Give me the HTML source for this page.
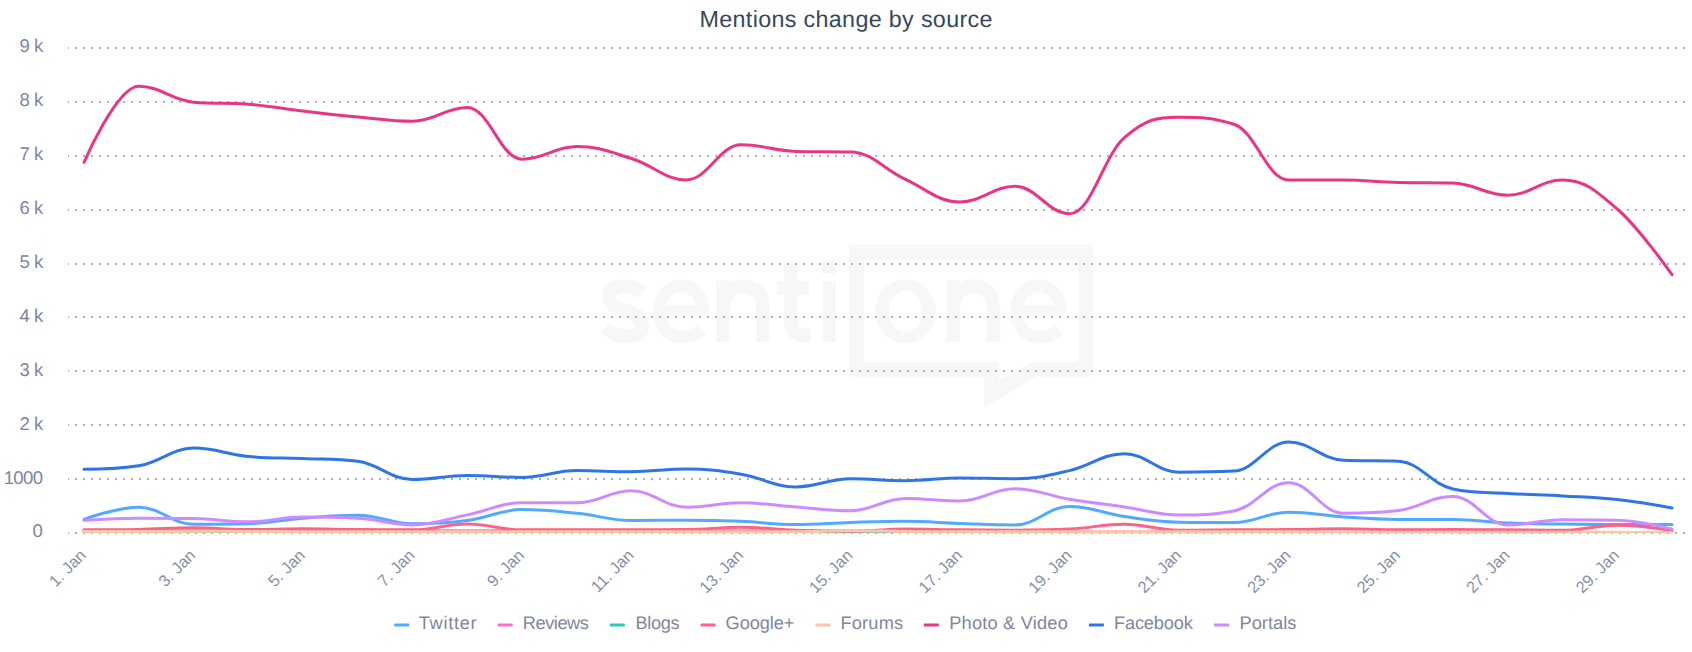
<!DOCTYPE html>
<html><head><meta charset="utf-8"><title>Mentions change by source</title>
<style>html,body{margin:0;padding:0;background:#fff;}svg{display:block;}text{font-family:"Liberation Sans",sans-serif;text-rendering:geometricPrecision;}</style></head><body>
<svg width="1692" height="652" viewBox="0 0 1692 652">
<rect x="0" y="0" width="1692" height="652" fill="#ffffff"/>
<g id="wm" fill="none" stroke="#f7f7f7" stroke-width="14" stroke-linecap="butt" stroke-linejoin="miter">
<path fill="#f7f7f7" stroke="none" fill-rule="evenodd" d="M848.9 244.6 H1092.8 V376.8 H1036.5 L984.4 407.5 V376.8 H848.9 Z M863.8 259.5 V362 H999.2 V380.8 L1032.2 362 H1077.9 V259.5 Z"/>
<path d="M642.5 292.5 Q634 286.3 624.5 286.3 Q609.5 286.3 609.5 297.5 Q609.5 306.5 625.5 310.8 Q642 315.2 642 325.5 Q642 336.3 626 336.3 Q614 336.3 605.5 327.5"/>
<path stroke-width="12.6" d="M703.4 311.4 A22.1 25.8 0 1 0 681.3 337.2 C690 337.2 696.8 334.4 702 329.8" />
<path stroke-width="8.4" d="M662 309.8 H707"/>
<path d="M723.1 342 V280.4 M723.1 309 C723.1 293 732 286.3 743 286.3 C755 286.3 762.9 293 762.9 309 V342"/>
<path d="M790.9 263 V321 Q790.9 335.2 804.5 335.2 H811.3 M777.5 288 H809"/>
<path d="M828.9 281.1 V342 M828.9 260.4 V273.8"/>
<path fill="#f7f7f7" stroke="none" fill-rule="evenodd" d="M875.2 311.3 a30.35 31.9 0 1 0 60.7 0 a30.35 31.9 0 1 0 -60.7 0 Z M888.9 311.3 a16.65 20.8 0 1 0 33.3 0 a16.65 20.8 0 1 0 -33.3 0 Z"/>

<path d="M953 342 V280.4 M953 309 C953 293 962 286.3 973 286.3 C985.5 286.3 993.4 293 993.4 309 V342"/>
<path stroke-width="12.6" d="M1060.9 311.4 A22.3 25.8 0 1 0 1038.6 337.2 C1047.4 337.2 1054.2 334.4 1059.5 329.8" />
<path stroke-width="8.4" d="M1019 309.8 H1064.5"/>
</g>
<g id="grid" stroke="#b2b2b2" stroke-width="2" stroke-dasharray="2,6" fill="none">
<path d="M68 48 H1685" stroke-dashoffset="1"/>
<path d="M68 102 H1685" stroke-dashoffset="1"/>
<path d="M68 156 H1685" stroke-dashoffset="1"/>
<path d="M68 210 H1685" stroke-dashoffset="1"/>
<path d="M68 264 H1685" stroke-dashoffset="1"/>
<path d="M68 317 H1685" stroke-dashoffset="1"/>
<path d="M68 371 H1685" stroke-dashoffset="1"/>
<path d="M68 425 H1685" stroke-dashoffset="1"/>
<path d="M68 479 H1685" stroke-dashoffset="1"/>
<path d="M68 533 H1685" stroke-dashoffset="1"/>
</g>
<rect x="60" y="40" width="8" height="500" fill="#fff" opacity="0"/>
<g id="ylabels" fill="#7f86a1" font-size="18.5" text-anchor="end" word-spacing="-0.9">
<text x="43.2" y="52.3">9 k</text>
<text x="43.2" y="106.2">8 k</text>
<text x="43.2" y="160.1">7 k</text>
<text x="43.2" y="214.0">6 k</text>
<text x="43.2" y="267.9">5 k</text>
<text x="43.2" y="321.7">4 k</text>
<text x="43.2" y="375.6">3 k</text>
<text x="43.2" y="429.5">2 k</text>
<text x="42.6" y="484.3" letter-spacing="-0.55">1000</text>
<text x="42.8" y="537.3">0</text>
</g>
<g id="xlabels" fill="#8790aa" font-size="16.3" text-anchor="end">
<text transform="translate(87.0,556.3) rotate(-45)">1. Jan</text>
<text transform="translate(196.5,556.3) rotate(-45)">3. Jan</text>
<text transform="translate(306.0,556.3) rotate(-45)">5. Jan</text>
<text transform="translate(415.6,556.3) rotate(-45)">7. Jan</text>
<text transform="translate(525.1,556.3) rotate(-45)">9. Jan</text>
<text transform="translate(634.6,556.3) rotate(-45)">11. Jan</text>
<text transform="translate(744.1,556.3) rotate(-45)">13. Jan</text>
<text transform="translate(853.6,556.3) rotate(-45)">15. Jan</text>
<text transform="translate(963.1,556.3) rotate(-45)">17. Jan</text>
<text transform="translate(1072.7,556.3) rotate(-45)">19. Jan</text>
<text transform="translate(1182.2,556.3) rotate(-45)">21. Jan</text>
<text transform="translate(1291.7,556.3) rotate(-45)">23. Jan</text>
<text transform="translate(1401.2,556.3) rotate(-45)">25. Jan</text>
<text transform="translate(1510.7,556.3) rotate(-45)">27. Jan</text>
<text transform="translate(1620.2,556.3) rotate(-45)">29. Jan</text>
</g>
<clipPath id="pc"><rect x="60" y="0" width="1632" height="533"/></clipPath>
<g id="series" clip-path="url(#pc)" fill="none" stroke-width="3" stroke-linecap="round" stroke-linejoin="round">
<path stroke="#50abfe" d="M 84.00 519.31 C 84.00 519.31 116.86 507.19 138.76 507.19 C 160.66 507.19 171.61 524.22 193.52 524.22 C 215.42 524.22 226.37 524.22 248.28 523.78 C 270.18 523.35 281.13 519.84 303.03 518.13 C 324.94 516.41 335.89 515.22 357.79 515.22 C 379.70 515.22 390.65 523.78 412.55 523.78 C 434.46 523.78 445.41 523.33 467.31 520.50 C 489.21 517.66 500.17 509.61 522.07 509.61 C 543.97 509.61 554.92 511.10 576.83 513.28 C 598.73 515.45 609.68 520.50 631.59 520.50 C 653.49 520.50 664.44 520.23 686.34 520.23 C 708.25 520.23 719.20 520.49 741.10 521.36 C 763.01 522.23 773.96 524.59 795.86 524.59 C 817.77 524.59 828.72 523.15 850.62 522.49 C 872.52 521.83 883.48 521.31 905.38 521.31 C 927.28 521.31 938.23 522.69 960.14 523.41 C 982.04 524.13 992.99 524.92 1014.90 524.92 C 1036.80 524.92 1047.75 506.49 1069.66 506.49 C 1091.56 506.49 1102.51 513.36 1124.41 516.51 C 1146.32 519.66 1157.27 521.84 1179.17 522.22 C 1201.08 522.60 1212.03 522.60 1233.93 522.60 C 1255.83 522.60 1266.79 512.20 1288.69 512.20 C 1310.59 512.20 1321.54 515.50 1343.45 516.94 C 1365.35 518.39 1376.30 519.42 1398.21 519.42 C 1420.11 519.42 1431.06 519.42 1452.97 519.42 C 1474.87 519.42 1485.82 522.04 1507.72 522.98 C 1529.63 523.91 1540.58 523.78 1562.48 524.11 C 1584.39 524.43 1595.34 524.59 1617.24 524.59 C 1639.14 524.59 1672.00 524.59 1672.00 524.59"/>
<path stroke="#ff6ed2" d="M 84.00 530.68 C 84.00 530.68 116.86 530.68 138.76 530.68 C 160.66 530.68 171.61 530.68 193.52 530.68 C 215.42 530.68 226.37 530.68 248.28 530.68 C 270.18 530.68 281.13 530.68 303.03 530.68 C 324.94 530.68 335.89 530.68 357.79 530.68 C 379.70 530.68 390.65 530.68 412.55 530.68 C 434.46 530.68 445.41 530.68 467.31 530.68 C 489.21 530.68 500.17 530.68 522.07 530.68 C 543.97 530.68 554.92 530.95 576.83 530.95 C 598.73 530.95 609.68 530.95 631.59 530.95 C 653.49 530.95 664.44 530.95 686.34 530.95 C 708.25 530.95 719.20 530.95 741.10 530.95 C 763.01 530.95 773.96 530.95 795.86 530.95 C 817.77 530.95 828.72 530.95 850.62 531.06 C 872.52 531.17 883.48 531.40 905.38 531.60 C 927.28 531.79 938.23 532.03 960.14 532.03 C 982.04 532.03 992.99 532.03 1014.90 532.03 C 1036.80 532.03 1047.75 532.03 1069.66 532.03 C 1091.56 532.03 1102.51 532.03 1124.41 532.03 C 1146.32 532.03 1157.27 532.03 1179.17 532.03 C 1201.08 532.03 1212.03 532.03 1233.93 532.03 C 1255.83 532.03 1266.79 532.03 1288.69 532.03 C 1310.59 532.03 1321.54 532.35 1343.45 532.35 C 1365.35 532.35 1376.30 532.35 1398.21 532.35 C 1420.11 532.35 1431.06 532.35 1452.97 532.35 C 1474.87 532.35 1485.82 532.35 1507.72 532.35 C 1529.63 532.35 1540.58 532.35 1562.48 532.35 C 1584.39 532.35 1595.34 532.49 1617.24 532.57 C 1639.14 532.64 1672.00 532.73 1672.00 532.73"/>
<path stroke="#2bcbb8" d="M 84.00 532.68 C 84.00 532.68 116.86 532.68 138.76 532.68 C 160.66 532.68 171.61 532.68 193.52 532.68 C 215.42 532.68 226.37 532.68 248.28 532.68 C 270.18 532.68 281.13 532.68 303.03 532.68 C 324.94 532.68 335.89 532.68 357.79 532.68 C 379.70 532.68 390.65 532.68 412.55 532.68 C 434.46 532.68 445.41 532.68 467.31 532.68 C 489.21 532.68 500.17 532.68 522.07 532.68 C 543.97 532.68 554.92 532.68 576.83 532.68 C 598.73 532.68 609.68 532.68 631.59 532.68 C 653.49 532.68 664.44 532.68 686.34 532.68 C 708.25 532.68 719.20 532.68 741.10 532.68 C 763.01 532.68 773.96 532.68 795.86 532.68 C 817.77 532.68 828.72 532.68 850.62 532.68 C 872.52 532.68 883.48 532.68 905.38 532.68 C 927.28 532.68 938.23 532.68 960.14 532.68 C 982.04 532.68 992.99 532.68 1014.90 532.68 C 1036.80 532.68 1047.75 532.68 1069.66 532.68 C 1091.56 532.68 1102.51 532.68 1124.41 532.68 C 1146.32 532.68 1157.27 532.68 1179.17 532.68 C 1201.08 532.68 1212.03 532.68 1233.93 532.68 C 1255.83 532.68 1266.79 532.68 1288.69 532.68 C 1310.59 532.68 1321.54 532.68 1343.45 532.68 C 1365.35 532.68 1376.30 532.68 1398.21 532.68 C 1420.11 532.68 1431.06 532.68 1452.97 532.68 C 1474.87 532.68 1485.82 532.68 1507.72 532.68 C 1529.63 532.68 1540.58 532.68 1562.48 532.68 C 1584.39 532.68 1595.34 532.68 1617.24 532.68 C 1639.14 532.68 1672.00 532.68 1672.00 532.68"/>
<path stroke="#ff6188" d="M 84.00 529.87 C 84.00 529.87 116.86 529.81 138.76 529.39 C 160.66 528.97 171.61 527.77 193.52 527.77 C 215.42 527.77 226.37 529.60 248.28 529.60 C 270.18 529.60 281.13 528.80 303.03 528.80 C 324.94 528.80 335.89 529.39 357.79 529.60 C 379.70 529.82 390.65 529.87 412.55 529.87 C 434.46 529.87 445.41 524.11 467.31 524.11 C 489.21 524.11 500.17 529.87 522.07 529.87 C 543.97 529.87 554.92 529.87 576.83 529.87 C 598.73 529.87 609.68 529.87 631.59 529.87 C 653.49 529.87 664.44 529.87 686.34 529.60 C 708.25 529.34 719.20 527.29 741.10 527.29 C 763.01 527.29 773.96 529.55 795.86 530.36 C 817.77 531.17 828.72 531.33 850.62 531.33 C 872.52 531.33 883.48 529.07 905.38 529.07 C 927.28 529.07 938.23 529.65 960.14 529.87 C 982.04 530.10 992.99 530.20 1014.90 530.20 C 1036.80 530.20 1047.75 530.20 1069.66 529.07 C 1091.56 527.93 1102.51 524.22 1124.41 524.22 C 1146.32 524.22 1157.27 530.36 1179.17 530.36 C 1201.08 530.36 1212.03 530.03 1233.93 529.87 C 1255.83 529.72 1266.79 529.82 1288.69 529.60 C 1310.59 529.39 1321.54 528.80 1343.45 528.80 C 1365.35 528.80 1376.30 529.87 1398.21 529.87 C 1420.11 529.87 1431.06 529.60 1452.97 529.60 C 1474.87 529.60 1485.82 529.72 1507.72 529.87 C 1529.63 530.03 1540.58 530.36 1562.48 530.36 C 1584.39 530.36 1595.34 525.19 1617.24 525.19 C 1639.14 525.19 1672.00 530.52 1672.00 530.52"/>
<path stroke="#ffc6a4" d="M 84.00 531.60 C 84.00 531.60 116.86 531.54 138.76 531.49 C 160.66 531.44 171.61 531.33 193.52 531.33 C 215.42 531.33 226.37 531.36 248.28 531.44 C 270.18 531.51 281.13 531.71 303.03 531.71 C 324.94 531.71 335.89 531.71 357.79 531.71 C 379.70 531.71 390.65 531.71 412.55 531.71 C 434.46 531.71 445.41 531.71 467.31 531.71 C 489.21 531.71 500.17 531.71 522.07 531.71 C 543.97 531.71 554.92 531.71 576.83 531.71 C 598.73 531.71 609.68 531.71 631.59 531.71 C 653.49 531.71 664.44 531.71 686.34 531.71 C 708.25 531.71 719.20 531.71 741.10 531.71 C 763.01 531.71 773.96 531.71 795.86 531.71 C 817.77 531.71 828.72 530.74 850.62 530.74 C 872.52 530.74 883.48 531.18 905.38 531.38 C 927.28 531.59 938.23 531.76 960.14 531.76 C 982.04 531.76 992.99 531.76 1014.90 531.76 C 1036.80 531.76 1047.75 531.76 1069.66 531.76 C 1091.56 531.76 1102.51 531.76 1124.41 531.76 C 1146.32 531.76 1157.27 531.76 1179.17 531.76 C 1201.08 531.76 1212.03 531.76 1233.93 531.76 C 1255.83 531.76 1266.79 531.80 1288.69 531.87 C 1310.59 531.93 1321.54 532.02 1343.45 532.08 C 1365.35 532.15 1376.30 532.19 1398.21 532.19 C 1420.11 532.19 1431.06 532.19 1452.97 532.19 C 1474.87 532.19 1485.82 532.19 1507.72 532.19 C 1529.63 532.19 1540.58 532.19 1562.48 532.19 C 1584.39 532.19 1595.34 532.27 1617.24 532.35 C 1639.14 532.44 1672.00 532.62 1672.00 532.62"/>
<path stroke="#e93588" d="M 84.00 162.30 C 84.00 162.30 116.86 86.30 138.76 86.30 C 160.66 86.30 171.61 100.20 193.52 102.20 C 215.42 104.20 226.37 102.44 248.28 104.20 C 270.18 105.96 281.13 108.46 303.03 111.00 C 324.94 113.54 335.89 114.84 357.79 116.90 C 379.70 118.96 390.65 121.30 412.55 121.30 C 434.46 121.30 445.41 107.50 467.31 107.50 C 489.21 107.50 500.17 159.20 522.07 159.20 C 543.97 159.20 554.92 146.50 576.83 146.50 C 598.73 146.50 609.68 151.82 631.59 158.50 C 653.49 165.18 664.44 179.90 686.34 179.90 C 708.25 179.90 719.20 144.80 741.10 144.80 C 763.01 144.80 773.96 150.90 795.86 151.40 C 817.77 151.90 828.72 151.40 850.62 151.90 C 872.52 152.40 883.48 169.38 905.38 179.40 C 927.28 189.42 938.23 202.00 960.14 202.00 C 982.04 202.00 992.99 186.30 1014.90 186.30 C 1036.80 186.30 1047.75 213.70 1069.66 213.70 C 1091.56 213.70 1102.51 156.98 1124.41 137.70 C 1146.32 118.42 1157.27 117.30 1179.17 117.30 C 1201.08 117.30 1212.03 117.30 1233.93 124.20 C 1255.83 131.10 1266.79 180.10 1288.69 180.10 C 1310.59 180.10 1321.54 180.10 1343.45 180.10 C 1365.35 180.10 1376.30 182.10 1398.21 182.60 C 1420.11 183.10 1431.06 182.60 1452.97 183.10 C 1474.87 183.60 1485.82 195.30 1507.72 195.30 C 1529.63 195.30 1540.58 180.00 1562.48 180.00 C 1584.39 180.00 1595.34 190.06 1617.24 209.00 C 1639.14 227.94 1672.00 274.70 1672.00 274.70"/>
<path stroke="#2e76e5" d="M 84.00 469.30 C 84.00 469.30 116.86 469.30 138.76 465.80 C 160.66 462.30 171.61 448.12 193.52 448.12 C 215.42 448.12 226.37 454.43 248.28 456.48 C 270.18 458.52 281.13 457.55 303.03 458.52 C 324.94 459.49 335.89 458.52 357.79 461.33 C 379.70 464.13 390.65 479.49 412.55 479.49 C 434.46 479.49 445.41 475.50 467.31 475.50 C 489.21 475.50 500.17 477.39 522.07 477.39 C 543.97 477.39 554.92 470.60 576.83 470.60 C 598.73 470.60 609.68 471.73 631.59 471.73 C 653.49 471.73 664.44 468.98 686.34 468.98 C 708.25 468.98 719.20 470.61 741.10 474.21 C 763.01 477.81 773.96 486.98 795.86 486.98 C 817.77 486.98 828.72 478.68 850.62 478.68 C 872.52 478.68 883.48 480.78 905.38 480.78 C 927.28 480.78 938.23 477.92 960.14 477.92 C 982.04 477.92 992.99 478.68 1014.90 478.68 C 1036.80 478.68 1047.75 475.60 1069.66 470.60 C 1091.56 465.59 1102.51 453.67 1124.41 453.67 C 1146.32 453.67 1157.27 472.21 1179.17 472.21 C 1201.08 472.21 1212.03 472.21 1233.93 471.08 C 1255.83 469.95 1266.79 442.09 1288.69 442.09 C 1310.59 442.09 1321.54 459.22 1343.45 460.19 C 1365.35 461.16 1376.30 460.19 1398.21 461.16 C 1420.11 462.13 1431.06 484.45 1452.97 488.92 C 1474.87 493.39 1485.82 491.98 1507.72 493.39 C 1529.63 494.80 1540.58 494.74 1562.48 495.98 C 1584.39 497.22 1595.34 497.18 1617.24 499.59 C 1639.14 501.99 1672.00 508.00 1672.00 508.00"/>
<path stroke="#ce8aff" d="M 84.00 520.23 C 84.00 520.23 116.86 518.13 138.76 518.13 C 160.66 518.13 171.61 518.13 193.52 518.45 C 215.42 518.77 226.37 521.79 248.28 521.79 C 270.18 521.79 281.13 516.99 303.03 516.99 C 324.94 516.99 335.89 516.99 357.79 518.13 C 379.70 519.26 390.65 524.92 412.55 524.92 C 434.46 524.92 445.41 519.31 467.31 514.89 C 489.21 510.47 500.17 502.82 522.07 502.82 C 543.97 502.82 554.92 502.82 576.83 502.82 C 598.73 502.82 609.68 490.80 631.59 490.80 C 653.49 490.80 664.44 507.19 686.34 507.19 C 708.25 507.19 719.20 502.82 741.10 502.82 C 763.01 502.82 773.96 505.33 795.86 506.92 C 817.77 508.50 828.72 510.74 850.62 510.74 C 872.52 510.74 883.48 498.51 905.38 498.51 C 927.28 498.51 938.23 500.88 960.14 500.88 C 982.04 500.88 992.99 488.70 1014.90 488.70 C 1036.80 488.70 1047.75 495.68 1069.66 499.32 C 1091.56 502.96 1102.51 503.80 1124.41 506.92 C 1146.32 510.03 1157.27 514.89 1179.17 514.89 C 1201.08 514.89 1212.03 514.89 1233.93 510.91 C 1255.83 506.92 1266.79 482.72 1288.69 482.72 C 1310.59 482.72 1321.54 513.28 1343.45 513.28 C 1365.35 513.28 1376.30 513.28 1398.21 510.58 C 1420.11 507.89 1431.06 496.41 1452.97 496.41 C 1474.87 496.41 1485.82 525.02 1507.72 525.02 C 1529.63 525.02 1540.58 519.69 1562.48 519.69 C 1584.39 519.69 1595.34 519.69 1617.24 520.23 C 1639.14 520.77 1672.00 529.12 1672.00 529.12"/>
</g>
<text id="title" x="846" y="27.3" text-anchor="middle" font-size="23.3" fill="#34495e" textLength="293" lengthAdjust="spacing">Mentions change by source</text>
<g id="legend" font-size="18.2" fill="#7f86a1">
<rect x="394.2" y="623.5" width="15" height="3" rx="0.4" fill="#50abfe"/>
<text x="418.8" y="628.8" textLength="57.7" lengthAdjust="spacing">Twitter</text>
<rect x="497.7" y="623.5" width="15" height="3" rx="0.4" fill="#ff6ed2"/>
<text x="522.8" y="628.8" textLength="66.1" lengthAdjust="spacing">Reviews</text>
<rect x="609.8" y="623.5" width="15" height="3" rx="0.4" fill="#2bcbb8"/>
<text x="635.4" y="628.8" textLength="44.2" lengthAdjust="spacing">Blogs</text>
<rect x="700.6" y="623.5" width="15" height="3" rx="0.4" fill="#ff6188"/>
<text x="725.6" y="628.8" textLength="68.7" lengthAdjust="spacing">Google+</text>
<rect x="815.4" y="623.5" width="15" height="3" rx="0.4" fill="#ffc6a4"/>
<text x="840.4" y="628.8" textLength="62.7" lengthAdjust="spacing">Forums</text>
<rect x="923.8" y="623.5" width="15" height="3" rx="0.4" fill="#e93588"/>
<text x="949.2" y="628.8" textLength="118.6" lengthAdjust="spacing">Photo &amp; Video</text>
<rect x="1088.9" y="623.5" width="15" height="3" rx="0.4" fill="#2e76e5"/>
<text x="1113.9" y="628.8" textLength="79.0" lengthAdjust="spacing">Facebook</text>
<rect x="1214.0" y="623.5" width="15" height="3" rx="0.4" fill="#ce8aff"/>
<text x="1239.5" y="628.8" textLength="56.9" lengthAdjust="spacing">Portals</text>
</g>
</svg></body></html>
